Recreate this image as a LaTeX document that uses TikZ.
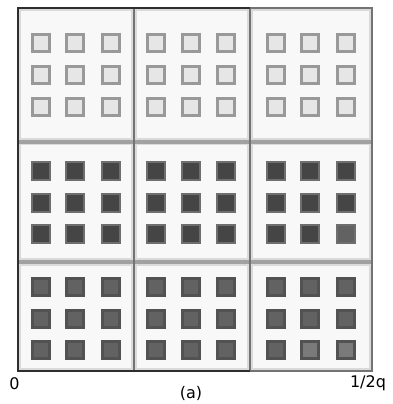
\documentclass[tikz,border=0pt]{standalone}
\usepackage{fontspec}
\setmainfont{DejaVu Sans}
\definecolor{cellgray}{HTML}{F8F8F8}
\definecolor{rimgray}{HTML}{DADADA}
\definecolor{lightfill}{HTML}{E6E6E6}
\definecolor{lightedge}{HTML}{999999}
\definecolor{darkfill}{HTML}{454545}
\definecolor{darkedge}{HTML}{6E6E6E}
\definecolor{midfill}{HTML}{626262}
\definecolor{midedge}{HTML}{525252}
\begin{document}
\begin{tikzpicture}[x=1pt, y=-1pt,
    cell/.style={fill=cellgray, draw=rimgray, line width=1.5pt},
    sq/.style={rectangle, minimum size=17pt, inner sep=0pt, line width=3pt},
    lightsq/.style={sq, fill=lightfill, draw=lightedge},
    darksq/.style={sq, fill=darkfill, draw=darkedge, line width=2pt, minimum size=18pt},
    midsq/.style={sq, fill=midfill, draw=midedge},
    lbl/.style={font=\fontsize{16}{18}\selectfont, inner sep=0pt}
]
\useasboundingbox (0,0) rectangle (393,404);

% cell backgrounds
\foreach \xa/\xb in {19/133, 135/249, 251/371}
  \foreach \ya/\yb in {9/140, 143/260, 264/370}
    \draw[cell] (\xa+1,\ya+1) rectangle (\xb-1,\yb-1);

% squares
\foreach \x [count=\i] in {41,75,111, 156,191,226, 276,310,346} {
  \foreach \y [count=\j] in {43,75,107}
    \node[lightsq] (t-\i-\j) at (\x,\y) {};
  \foreach \y [count=\j] in {171,203,234}
    \node[darksq] (m-\i-\j) at (\x,\y) {};
  \foreach \y [count=\j] in {287,319,350}
    \node[midsq] (b-\i-\j) at (\x,\y) {};
}
\node[darksq, fill=midfill] at (m-9-3) {};
\node[midsq, fill=black!52] at (b-8-3) {};
\node[midsq, fill=black!52] at (b-9-3) {};

% grid lines
\draw[line width=4pt, black!37] (18,141.5) -- (372,141.5);
\draw[line width=4pt, black!37] (18,262) -- (372,262);
\draw[line width=2pt, black!55] (134,8) -- (134,371);
\draw[line width=2pt, black!55] (250,8) -- (250,371);
\draw[line width=2pt, black!55] (250,8) -- (372,8) -- (372,371) -- (250,371);
\draw[line width=2pt, black!82] (250,8) -- (18,8) -- (18,371) -- (250,371);

% axis labels
\node[lbl] (zero) at (14.5,384) {0};
\node[lbl] (cap) at (191,393) {(a)};
\node[lbl] (half) at (368,383) {1/2q};
\end{tikzpicture}
\end{document}
